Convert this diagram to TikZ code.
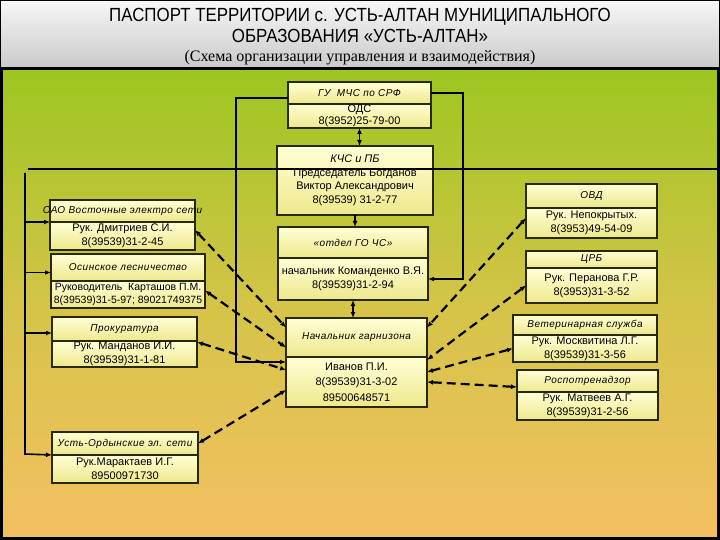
\documentclass[tikz,border=0pt]{standalone}
\usepackage{fontspec}
\setmainfont{Liberation Sans}
\newfontfamily\titlefont[FakeStretch=0.89]{Liberation Sans}
\newfontfamily\seriffont{Liberation Serif}
\usetikzlibrary{positioning,arrows.meta}
\definecolor{bgtop}{RGB}{156,198,32}
\definecolor{bgmid}{RGB}{212,196,72}
\definecolor{bgbot}{RGB}{244,192,98}
\definecolor{boxtop}{RGB}{255,255,214}
\definecolor{boxbot}{RGB}{238,232,140}
\definecolor{boxline}{RGB}{40,40,10}

\begin{document}
\begin{tikzpicture}[
  x=1pt, y=-1pt,
  >={Latex[length=6pt,width=5pt]},
  box/.style={draw=boxline, line width=1.1pt, outer sep=0pt, top color=boxtop, bottom color=boxbot, align=center, inner sep=0.5pt, font=\fontsize{11}{14}\selectfont},
  hd/.style={box, font=\fontsize{10}{12}\selectfont\itshape\addfontfeature{LetterSpace=5}},
  line/.style={line width=1.6pt},
  link/.style={<->, line width=2.2pt, dash pattern=on 9pt off 5pt},
  ttl/.style={anchor=base, inner sep=0pt}
]
\useasboundingbox (0,0) rectangle (720,540);
\shade[top color=gray!6, bottom color=gray!42] (0,0) rectangle (720,68);
\draw[line width=1pt] (0.5,0.5) rectangle (719.5,68);
\shade[top color=bgtop, bottom color=bgbot, middle color=bgmid] (0,68) rectangle (720,540);
\draw[line width=3pt] (1.5,69) rectangle (718.5,538.5);

\node[ttl, font=\titlefont\fontsize{19}{22}\selectfont] (t1) at (360,22) {ПАСПОРТ ТЕРРИТОРИИ с. УСТЬ-АЛТАН МУНИЦИПАЛЬНОГО};
\node[ttl, font=\titlefont\fontsize{19}{22}\selectfont] (t2) at (360,43) {ОБРАЗОВАНИЯ «УСТЬ-АЛТАН»};
\node[ttl, font=\seriffont\fontsize{16}{20}\selectfont] (t3) at (360,62) {(Схема организации управления и взаимодействия)};

\node[hd, minimum width=143pt, minimum height=22pt] (guH) at (359.5,93) {ГУ \ МЧС по СРФ};
\node[box, minimum width=143pt, minimum height=24pt, below=0pt of guH, font=\fontsize{11}{12.5}\selectfont] (guB) {ОДС\\8(3952)25-79-00};
\node[box, minimum width=156pt, minimum height=69pt, font=\fontsize{11}{13.5}\selectfont] (kchs) at (355,180.5) {\textit{КЧС и ПБ}\\Председатель Богданов\\Виктор Александрович\\8(39539) 31-2-77};
\node[hd, minimum width=150pt, minimum height=31pt] (otdH) at (353,242.5) {«отдел ГО ЧС»};
\node[box, minimum width=150pt, minimum height=42pt, below=0pt of otdH] (otdB) {начальник Команденко В.Я.\\8(39539)31-2-94};
\node[hd, minimum width=141pt, minimum height=39pt] (garnH) at (356.5,337.5) {Начальник гарнизона};
\node[box, minimum width=141pt, minimum height=50pt, below=0pt of garnH, font=\fontsize{11}{15.5}\selectfont] (garnB) {Иванов П.И.\\8(39539)31-3-02\\89500648571};

\node[hd, minimum width=145pt, minimum height=22pt] (oaoH) at (122.5,211) {\makebox[0pt]{ОАО Восточные электро сети}};
\node[box, minimum width=145pt, minimum height=28pt, below=0pt of oaoH] (oaoB) {Рук. Дмитриев С.И.\\8(39539)31-2-45};
\node[hd, minimum width=154pt, minimum height=27pt] (osH) at (128,267.5) {Осинское лесничество};
\node[box, minimum width=154pt, minimum height=27pt, below=0pt of osH, font=\fontsize{10.5}{13.5}\selectfont] (osB) {Руководитель\ \ Карташов П.М.\\8(39539)31-5-97; 89021749375};
\node[hd, minimum width=145pt, minimum height=24pt] (prokH) at (124.5,329) {Прокуратура};
\node[box, minimum width=145pt, minimum height=26pt, below=0pt of prokH] (prokB) {Рук. Манданов И.И.\\8(39539)31-1-81};
\node[hd, minimum width=146pt, minimum height=23pt] (uoH) at (125,443.5) {Усть-Ордынские эл. сети};
\node[box, minimum width=146pt, minimum height=28pt, below=0pt of uoH] (uoB) {Рук.Марактаев И.Г.\\89500971730};

\node[hd, minimum width=131pt, minimum height=24pt] (ovdH) at (591.5,196) {ОВД};
\node[box, minimum width=131pt, minimum height=30pt, below=0pt of ovdH] (ovdB) {Рук. Непокрытых.\\8(3953)49-54-09};
\node[hd, minimum width=131pt, minimum height=17pt] (crbH) at (591.5,259.5) {ЦРБ};
\node[box, minimum width=131pt, minimum height=35pt, below=0pt of crbH] (crbB) {Рук. Перанова Г.Р.\\8(3953)31-3-52};
\node[hd, minimum width=144pt, minimum height=20pt] (vetH) at (585,325) {Ветеринарная служба};
\node[box, minimum width=144pt, minimum height=27pt, below=0pt of vetH] (vetB) {Рук. Москвитина Л.Г.\\8(39539)31-3-56};
\node[hd, minimum width=141pt, minimum height=22pt] (rosH) at (587.5,381) {Роспотренадзор};
\node[box, minimum width=141pt, minimum height=28pt, below=0pt of rosH] (rosB) {Рук. Матвеев А.Г.\\8(39539)31-2-56};

\coordinate (lt) at (236,98);
\coordinate (lb) at (236,362);
\coordinate (rt) at (463,93);
\coordinate (busL) at (28,169);
\coordinate (busR) at (718,169);
\coordinate (vt) at (25,173);
\coordinate (vb) at (25,454);

\draw[line, <->] (guB.south) -- (guB.south |- kchs.north);
\draw[line, ->] (kchs.south) -- (kchs.south |- otdH.north);
\draw[line, <->] (otdB.south) -- (otdB.south |- garnH.north);
\draw[line, ->] (guH.west |- lt) -- (lt) -- (lb) -- (garnB.west |- lb);
\draw[line, ->] (guH.east) -- (rt) |- (otdB.east);
\draw[line width=1.4pt] (busL) -- (busR);
\draw[line, ->] (vt) -- (vb) -- (uoB.north west);
\draw[line, ->] (vt |- oaoB.north west) -- (oaoB.north west);
\draw[line, ->] (vt |- osH.west) ++(0,5) -- ([yshift=-5pt]osH.west);
\draw[line, ->] (vt |- prokH.west) ++(0,4) -- ([yshift=-4pt]prokH.west);

\draw[link] ([yshift=5pt]ovdB.west) -- ([yshift=10pt]garnH.east);
\draw[link] (crbB.west) -- ([yshift=-3pt]garnB.north east);
\draw[link] (vetB.west) -- ([yshift=10pt]garnB.east);
\draw[link] ([yshift=-6pt]rosH.west) -- (garnB.east);
\draw[link] ([yshift=6pt]oaoB.east) -- ([yshift=10pt]garnH.west);
\draw[link] ([yshift=4pt]osB.east) -- ([yshift=-10pt]garnH.west);
\draw[link] ([yshift=12pt]prokB.east) -- ([yshift=12pt]garnB.west);
\draw[link] (uoH.east) -- ([yshift=-8pt]garnB.west);
\end{tikzpicture}
\end{document}
